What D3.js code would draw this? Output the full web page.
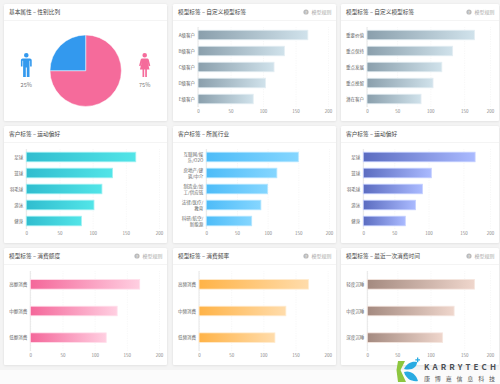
<!DOCTYPE html>
<html><head><meta charset="utf-8">
<script src="https://cdn.jsdelivr.net/npm/d3@7/dist/d3.min.js"></script>
<style>
html,body{margin:0;padding:0;background:#f4f4f4;overflow:hidden}
svg{display:block}
text{font-family:"Noto Sans CJK SC","Noto Sans",sans-serif}
</style></head><body>
<svg id="c" width="500" height="384"></svg>
<script>
const genderLabels = ["女","男"];
const genderValues = [75,25];
const genderColors = ["#f56b9b","#3399ee"];

const titles = ["模型标签 – 自定义模型标签","模型标签 – 自定义模型标签","客户标签 – 运动偏好","客户标签 – 所属行业","客户标签 – 运动偏好","模型标签 – 消费额度","模型标签 – 消费频率","模型标签 – 最近一次消费时间"];
const ruleFlags = [true,true,false,false,false,true,true,true];

const gradeCats = ["A级客户","B级客户","C级客户","D级客户","E级客户"];
const gradeVals = [169,133,117,104,85];
const rfmCats = ["重要价值","重点保持","重点发展","重点挽留","潜在客户"];
const rfmVals = [170,133,117,104,86];
const sportCats = ["足球","篮球","羽毛球","游泳","健身"];
const sportVals1 = [165,130,114,102,83];
const industryCats = ["互联网/娱\n乐/O2O","房地产/建\n筑/中介","制造业/加\n工/供应链","法律/医疗/\n教育","科研/航空/\n新能源"];
const industryVals = [150,115,100,89,74];
const sportVals2 = [172,104,91,81,66];
const amountCats = ["高额消费","中额消费","低额消费"];
const amountVals = [170,135,118];
const freqCats = ["高频消费","中频消费","低频消费"];
const freqVals = [170,135,118];
const sleepCats = ["轻度沉睡","中度沉睡","深度沉睡"];
const sleepVals = [170,135,118];

const categorySets = [gradeCats,rfmCats,sportCats,industryCats,sportCats,amountCats,freqCats,sleepCats];
const valueSets = [gradeVals,rfmVals,sportVals1,industryVals,sportVals2,amountVals,freqVals,sleepVals];
const axisTicks = [0,50,100,150,200];

const gradFrom = ["#8a9fac","#8a9fac","#30bdcf","#4dbcf8","#5b6cc0","#f4679a","#ffb347","#a48a80"];
const gradTo   = ["#d0e2eb","#d0e2eb","#52e5e8","#85d6ff","#aabaff","#ffcfe1","#ffdcab","#efd6cc"];
const edge     = ["#e4eef3","#e4eef3","#a0f0f2","#b5e6ff","#c5d0ff","#ffe0ec","#ffecd0","#f5e6df"];

// layout
const colX = [[4,167],[173,336],[341,499]];
const rowY = [[4,121],[126,243],[248,365]];
const plotX = [[198,328],[367,490],[26.3,159],[206.3,329],[363.3,490],[30.3,159],[199,327.7],[367.3,490]];
// third column's ticks are unevenly spaced in the source
const knee = [false,true,false,false,true,false,false,true];

const svg = d3.select("#c");
const defs = svg.append("defs");
const f = defs.append("filter").attr("id","sh").attr("x","-5%").attr("y","-5%").attr("width","110%").attr("height","110%");
f.append("feDropShadow").attr("dx",0).attr("dy",0.5).attr("stdDeviation",1.2).attr("flood-color","#000").attr("flood-opacity",0.1);

svg.append("rect").attr("x",0).attr("y",370).attr("width",500).attr("height",14).attr("fill","#fbfbfb");

function card(c,r,title,rule){
  const [x0,x1]=colX[c],[y0,y1]=rowY[r];
  const g=svg.append("g");
  g.append("rect").attr("x",x0).attr("y",y0).attr("width",x1-x0).attr("height",y1-y0).attr("rx",1.5).attr("fill","#fff").attr("filter","url(#sh)");
  g.append("line").attr("x1",x0).attr("x2",x1).attr("y1",y0+16.5).attr("y2",y0+16.5).attr("stroke","#efefef").attr("stroke-width",0.7);
  g.append("text").attr("x",x0+5).attr("y",y0+10).attr("font-size",5.7).attr("fill","#444").text(title);
  if(rule){
    g.append("circle").attr("cx",x1-30).attr("cy",y0+8).attr("r",2.6).attr("fill","#bbb");
    g.append("text").attr("x",x1-30).attr("y",y0+9.6).attr("text-anchor","middle").attr("font-size",4).attr("fill","#fff").text("?");
    g.append("text").attr("x",x1-4.5).attr("y",y0+9.8).attr("text-anchor","end").attr("font-size",5).attr("fill","#aaa").text("模型规则");
  }
  return g;
}

// gender card
const g0=card(0,0,"基本属性 – 性别比列",false);
const pie=d3.pie().sort(null)(genderValues);
const arc=d3.arc().innerRadius(0).outerRadius(35.7);
g0.append("g").attr("transform","translate(85.7,70.7)").selectAll("path").data(pie).join("path")
  .attr("d",arc).attr("fill",(d,i)=>genderColors[i]).attr("stroke","#fff").attr("stroke-width",0.5);
const male="M0,-12A2.3,2.3 0 1 1 0,-7.4A2.3,2.3 0 1 1 0,-12ZM-3.6,-6.6H3.6Q5.4,-6.6 5.4,-4.8V1.6H3.8V-4.2H3.2V12H0.5V2.6H-0.5V12H-3.2V-4.2H-3.8V1.6H-5.4V-4.8Q-5.4,-6.6 -3.6,-6.6Z";
const female="M0,-12A2.3,2.3 0 1 1 0,-7.4A2.3,2.3 0 1 1 0,-12ZM-2.6,-6.6H2.6Q3.6,-6.6 4,-5.4L5.6,0.8L4.2,1.2L2.8,-3.2L4.8,4.6H2.2V12H0.5V4.6H-0.5V12H-2.2V4.6H-4.8L-2.8,-3.2L-4.2,1.2L-5.6,0.8L-4,-5.4Q-3.6,-6.6 -2.6,-6.6Z";
g0.append("path").attr("transform","translate(26.3,65)").attr("d",male).attr("fill",genderColors[1]);
g0.append("path").attr("transform","translate(144.7,65)").attr("d",female).attr("fill",genderColors[0]);
g0.append("text").attr("x",26.3).attr("y",86.5).attr("text-anchor","middle").attr("font-size",5.6).attr("fill","#777").text(genderValues[1]+"%");
g0.append("text").attr("x",144.7).attr("y",86.5).attr("text-anchor","middle").attr("font-size",5.6).attr("fill","#777").text(genderValues[0]+"%");

// bar cards
titles.forEach((title,i)=>{
  const c=(i+1)%3, r=Math.floor((i+1)/3);
  const g=card(c,r,title,ruleFlags[i]);
  const [y0]=rowY[r];
  const cats=categorySets[i], vals=valueSets[i];
  const [px0,px1]=plotX[i];
  const w=px1-px0;
  const x=d3.scaleLinear();
  if(knee[i]) x.domain(axisTicks).range([px0,px0+w*.245,px0+w*.515,px0+w*.79,px1]);
  else x.domain([0,200]).range([px0,px1]);
  const top=y0+23, bottom=y0+103;
  const inner=cats.length===5?0.4:0.64;
  const y=d3.scaleBand().domain(cats).range([top,bottom]).paddingInner(inner).paddingOuter(inner/2);
  const id="gr"+i;
  const lg=defs.append("linearGradient").attr("id",id);
  lg.append("stop").attr("offset","0%").attr("stop-color",gradFrom[i]);
  lg.append("stop").attr("offset","100%").attr("stop-color",gradTo[i]);

  const ax=g.append("g").attr("transform",`translate(0,${bottom})`)
    .call(d3.axisBottom(x).tickValues(axisTicks).tickSize(0).tickPadding(2.5));
  ax.select(".domain").remove();
  ax.selectAll("text").attr("font-size",4.5).attr("fill","#888").attr("font-family",'"Noto Sans CJK SC",sans-serif');
  ax.selectAll(".tick line").attr("y2",-(bottom-top)).attr("stroke","#eee").attr("stroke-width",0.5).attr("stroke-dasharray","1.2,1.2");

  g.append("line").attr("x1",px0).attr("x2",px0).attr("y1",top).attr("y2",bottom).attr("stroke","#ddd").attr("stroke-width",0.7);

  g.selectAll("rect.bar").data(vals).join("rect").attr("class","bar")
    .attr("x",px0).attr("y",(d,k)=>y(cats[k]))
    .attr("width",d=>x(d)-px0).attr("height",y.bandwidth())
    .attr("fill",`url(#${id})`).attr("stroke",edge[i]).attr("stroke-width",0.8);

  cats.forEach(cat=>{
    const lines=cat.split("\n");
    const t=g.append("text").attr("text-anchor","end").attr("font-size",4.5).attr("fill","#666");
    lines.forEach((ln,li)=>{
      t.append("tspan").attr("x",px0-3)
       .attr("y",y(cat)+y.bandwidth()/2+1.6+(li-(lines.length-1)/2)*6.2).text(ln);
    });
  });
});

// logo
const logo=svg.append("g");
logo.append("path").attr("d","M398,361H405L400.5,370L406,382H398L396.5,370Z").attr("fill","#8dc63f");
logo.append("path").attr("d","M404,369C407,363 412,361 417,362C417,367 412,371 404,369Z").attr("fill","#29abe2");
logo.append("path").attr("d","M404,372C410,370 416,374 418,381C412,382 406,379 404,372Z").attr("fill","#29abe2");
logo.append("path").attr("d","M417,357.5h1.3v1.7h1.7v1.3h-1.7v1.7h-1.3v-1.7h-1.7v-1.3h1.7Z").attr("fill","#29abe2");
logo.append("text").attr("x",424).attr("y",370).attr("font-size",8).attr("font-weight",700).attr("fill","#4a4f55").attr("font-family",'"Liberation Sans",sans-serif').attr("textLength",72).attr("lengthAdjust","spacing").text("KARRYTECH");
logo.append("text").attr("x",424).attr("y",380.5).attr("font-size",6).attr("fill","#555").attr("textLength",71).attr("lengthAdjust","spacing").text("康博嘉信息科技");
</script>
</body></html>
